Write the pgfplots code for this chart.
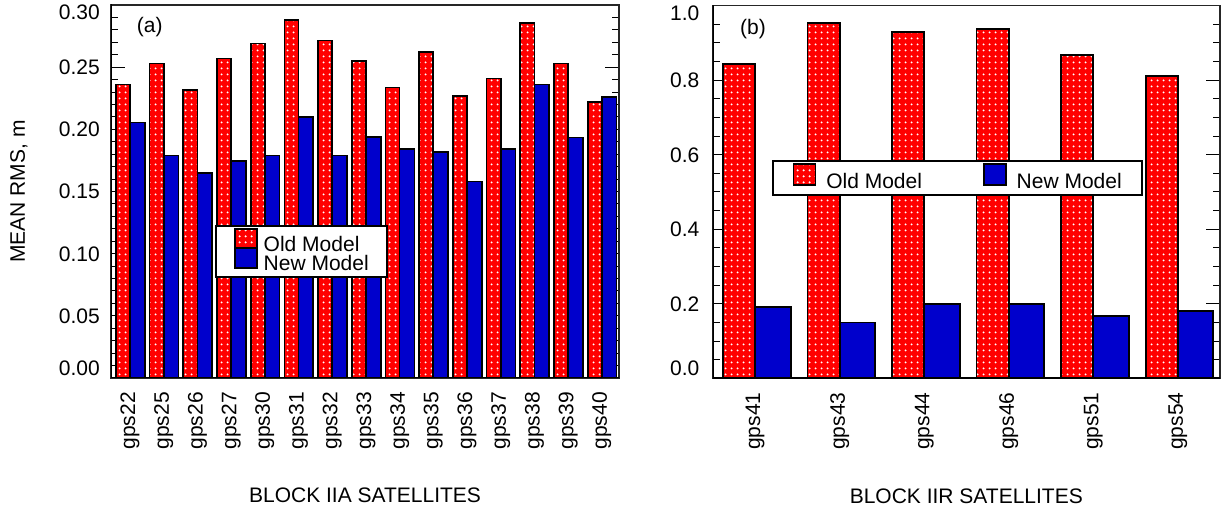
\documentclass[border=0pt]{standalone}
\usepackage{pgfplots}
\usepackage{pgfplotstable}
\pgfplotsset{compat=1.18}
\usepackage{fontspec}
\setmainfont{Liberation Sans}
\usetikzlibrary{patterns.meta}
\definecolor{oldred}{RGB}{255,0,0}
\definecolor{newblue}{RGB}{0,0,204}
\newcommand\fs{\fontsize{21bp}{24bp}\selectfont}
\tikzdeclarepattern{
  name=wdots, type=uncolored,
  bounding box={(-3bp,-3bp) and (3bp,3bp)},
  tile size={(6bp,6bp)},
  code={\fill (0,0) circle (1.25bp);}
}

\pgfplotstableread{
x old new
0 0.236 0.2054
1 0.253 0.179
2 0.2315 0.165
3 0.257 0.1747
4 0.269 0.179
5 0.288 0.210
6 0.2715 0.179
7 0.255 0.1938
8 0.2336 0.184
9 0.2624 0.1817
10 0.2266 0.158
11 0.241 0.184
12 0.2857 0.236
13 0.253 0.1935
14 0.2218 0.226
}\blocka

\pgfplotstableread{
x old new
0 0.844 0.1906
1 0.953 0.150
2 0.929 0.1987
3 0.937 0.1987
4 0.868 0.167
5 0.8116 0.1815
}\blockb

\pgfplotsset{
  oldbar/.style={fill=oldred, draw=black, line width=1.7bp,
     postaction={pattern=wdots, pattern color=white}},
  newbar/.style={fill=newblue, draw=black, line width=1.7bp},
  legA/.style={legend image code/.code={\draw[##1] (0bp,-4bp) rectangle (22bp,16bp);}},
  legB/.style={legend image code/.code={\draw[##1] (0bp,-3bp) rectangle (22bp,18bp);}},
  common/.style={
    scale only axis, anchor=south west,
    ybar=0pt, ymin=0,
    font=\fs,
    axis line style={line width=1.2bp, black!85},
    xtick style={draw=none},
    ytick style={line width=1bp, black},
    tick align=inside,
    major tick length=14bp, minor tick length=7bp,
    ytick pos=both,
    xticklabel style={yshift=-14bp, rotate=90, anchor=east, inner sep=0pt, font=\fs},
    yticklabel style={anchor=base east, inner sep=0pt, yshift=-7.5bp, font=\fs},
    xlabel style={font=\fs, anchor=center, at={(axis description cs:0.5,-0.3155)}},
    ylabel style={font=\fs, anchor=center},
    legend style={draw=black, line width=1.8bp, fill=white, font=\fs,
       nodes={inner sep=0pt, outer sep=0pt, text height=16bp, text depth=4bp},
       legend cell align=left},
  },
}

\begin{document}
\begin{tikzpicture}
\path[use as bounding box] (0,0) rectangle (1221bp,512bp);

\begin{axis}[common,
  at={(111bp,134bp)}, width=508bp, height=373bp,
  xmin=-0.564, xmax=14.51, ymax=0.30,
  xtick={0,...,14},
  xticklabels={gps22,gps25,gps26,gps27,gps30,gps31,gps32,gps33,gps34,gps35,gps36,gps37,gps38,gps39,gps40},
  ytick={0,0.05,0.1,0.15,0.2,0.25,0.3},
  yticklabels={\raisebox{10bp}{0.00},0.05,0.10,0.15,0.20,0.25,\raisebox{-7bp}{0.30}},
  minor y tick num=4,
  yticklabel style={xshift=-11bp},
  xlabel={BLOCK IIA SATELLITES},
  ylabel={MEAN RMS, m},
  ylabel style={at={(axis description cs:-0.1815,0.5)}},
  legend style={at={(0.205,0.41)}, anchor=north west,
     inner xsep=18bp, inner ysep=2.5bp, column sep=6bp, row sep=-8bp},
]
\addplot[oldbar, legA, bar width=0.42, bar shift=-0.21]
  table[x=x, y=old] {\blocka};
\addlegendentry{Old Model}
\addplot[newbar, legA, bar width=0.44, bar shift=0.22]
  table[x=x, y=new] {\blocka};
\addlegendentry{New Model}
\draw[line width=2.6bp, black, line cap=rect] (rel axis cs:0,1) -- (rel axis cs:0,0) -- (rel axis cs:1,0);
\node[anchor=west, inner sep=0pt, font=\fs] at (rel axis cs:0.0507,0.9397) {(a)};
\end{axis}

\begin{axis}[common,
  at={(712.5bp,133.7bp)}, width=507.5bp, height=372.6bp,
  xmin=-0.505, xmax=5.5, ymax=1.0,
  xtick={0,...,5},
  xticklabels={gps41,gps43,gps44,gps46,gps51,gps54},
  ytick={0,0.2,0.4,0.6,0.8,1.0},
  yticklabels={\raisebox{10bp}{0.0},0.2,0.4,0.6,0.8,\raisebox{-7bp}{1.0}},
  minor y tick num=3,
  yticklabel style={xshift=-13bp},
  xlabel={BLOCK IIR SATELLITES},
  legend columns=4,
  legend style={at={(0.1167,0.586)}, anchor=north west,
     inner xsep=20bp, inner ysep=2.5bp, column sep=10bp,
     /tikz/every even column/.append style={column sep=61bp}},
]
\addplot[oldbar, legB, bar width=0.38, bar shift=-0.19]
  table[x=x, y=old] {\blockb};
\addlegendentry{Old Model}
\addplot[newbar, legB, bar width=0.42, bar shift=0.21]
  table[x=x, y=new] {\blockb};
\addlegendentry{New Model}
\draw[line width=2.6bp, black, line cap=rect] (rel axis cs:0,1) -- (rel axis cs:0,0) -- (rel axis cs:1,0);
\node[anchor=west, inner sep=0pt, font=\fs] at (rel axis cs:0.0542,0.938) {(b)};
\end{axis}
\end{tikzpicture}
\end{document}
